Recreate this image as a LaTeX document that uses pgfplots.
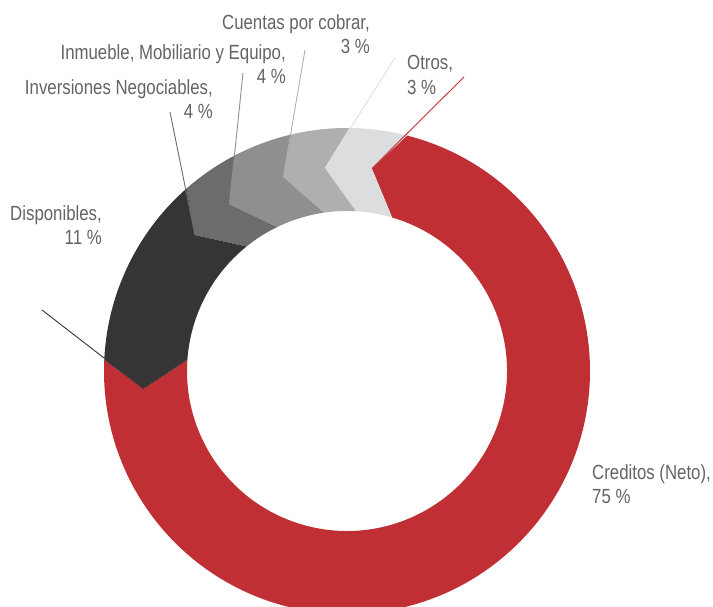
\documentclass[border=0pt]{standalone}
\usepackage{pgfplots}
\pgfplotsset{compat=1.18}
\usepackage{fontspec}
\setmainfont[FakeStretch=0.82]{Liberation Sans}

\definecolor{cred}{HTML}{BF2F33}
\definecolor{cdisp}{HTML}{373435}
\definecolor{cinv}{HTML}{6B6C6E}
\definecolor{cinm}{HTML}{8E8F91}
\definecolor{ccue}{HTML}{AEAFB1}
\definecolor{cotr}{HTML}{DCDDDE}
\definecolor{ctext}{HTML}{636466}

% ring segment: colour, start (outer, inner, tip), end (outer, inner, tip)
\newcommand{\seg}[7]{%
  \fill[#1] ([shift={(#2:243pt)}]O) arc[start angle=#2, end angle=#5, radius=243pt]
    -- ([shift={(#7:204pt)}]O) -- ([shift={(#6:160pt)}]O)
    arc[start angle=#6, end angle=#3, radius=160pt]
    -- ([shift={(#4:204pt)}]O) -- cycle;}

\begin{document}
\begin{tikzpicture}
\begin{axis}[hide axis, x=1pt, y=1pt, xmin=0, xmax=713, ymin=0, ymax=607,
  clip=false]
  \coordinate (O) at (axis cs:347,236);
  \coordinate (BL) at (rel axis cs:0,0);
  \coordinate (TR) at (rel axis cs:1,1);
  \begin{scope}
    \clip (rel axis cs:0,0) rectangle (rel axis cs:1,1);
    \seg{cred}{-182.6}{-184}{-175}{75.7}{73.6}{83}
    \seg{cotr}{75.7}{73.6}{83}{89.5}{86.8}{96.2}
    \seg{ccue}{89.5}{86.8}{96.2}{103.2}{98.3}{108.2}
    \seg{cinm}{103.2}{98.3}{108.2}{117.4}{115.9}{125.2}
    \seg{cinv}{117.4}{115.9}{125.2}{131.3}{128.9}{138.2}
    \seg{cdisp}{131.3}{128.9}{138.2}{177.4}{176}{185}
  \end{scope}
  % leader lines
  \addplot[cred, line width=0.9pt, no marks] coordinates {(464,530) (371.9,438.5)};
  \addplot[cotr, line width=0.9pt, no marks] coordinates {(395,549) (325.0,438.8)};
  \addplot[ccue, line width=0.9pt, no marks] coordinates {(305,557) (283.3,429.8)};
  \addplot[cinm, line width=0.9pt, no marks] coordinates {(243,534) (229.4,402.7)};
  \addplot[cinv, line width=0.9pt, no marks] coordinates {(170,495) (194.9,372.0)};
  \addplot[cdisp, line width=0.9pt, no marks] coordinates {(42,297) (143.8,218.2)};
  % labels
  \tikzset{lab/.style={inner sep=0pt, text=ctext, font=\fontsize{20.5}{25}\selectfont}}
  \node[lab, anchor=base east] at (axis cs:370,577) {Cuentas por cobrar,};
  \node[lab, anchor=base east] at (axis cs:370,553) {3 \%};
  \node[lab, anchor=base east] at (axis cs:286,547) {Inmueble, Mobiliario y Equipo,};
  \node[lab, anchor=base east] at (axis cs:286,523) {4 \%};
  \node[lab, anchor=base east] at (axis cs:213,512) {Inversiones Negociables,};
  \node[lab, anchor=base east] at (axis cs:213,488) {4 \%};
  \node[lab, anchor=base west] at (axis cs:407,537) {Otros,};
  \node[lab, anchor=base west] at (axis cs:407,512) {3 \%};
  \node[lab, anchor=base east] at (axis cs:102,386) {Disponibles,};
  \node[lab, anchor=base east] at (axis cs:102,362) {11 \%};
  \node[lab, anchor=base west] at (axis cs:592,127) {Creditos (Neto),};
  \node[lab, anchor=base west] at (axis cs:592,103) {75 \%};
\end{axis}
\pgfresetboundingbox
\path (BL) rectangle (TR);
\end{tikzpicture}
\end{document}
